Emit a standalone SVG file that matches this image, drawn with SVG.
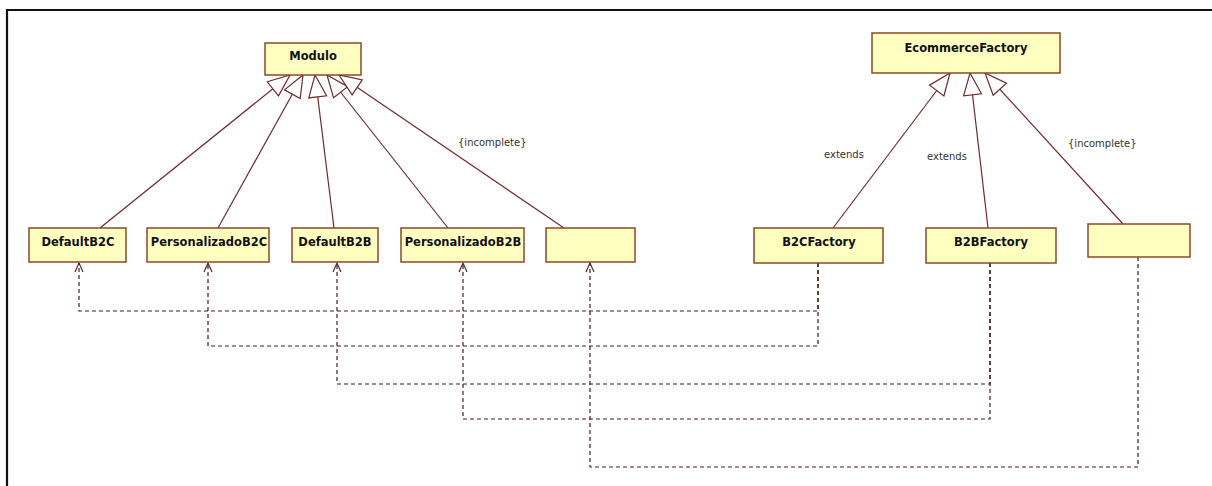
<svg xmlns="http://www.w3.org/2000/svg" width="1212" height="486" viewBox="0 0 1212 486">
  <defs>
    <style>
      .cls { fill: #ffffc0; stroke: #8a4a2a; stroke-width: 1.5; }
      .name { font-family: "DejaVu Sans", Verdana, sans-serif; font-weight: bold; font-size: 11.5px; fill: #111; text-anchor: middle; }
      .lbl { font-family: "DejaVu Sans", Verdana, sans-serif; font-size: 10px; fill: #333; }
      .gen { stroke: #6e2b2b; stroke-width: 1.2; fill: none; marker-end: url(#hollow); }
      .dep { stroke: #4a1a1a; stroke-width: 1.2; fill: none; stroke-dasharray: 4 3; marker-end: url(#open); }
      .frame { stroke: #111; stroke-width: 2.2; fill: none; }
    </style>
    <!-- hollow triangle for generalization -->
    <marker id="hollow" markerUnits="userSpaceOnUse" markerWidth="26" markerHeight="22" refX="23" refY="10" orient="auto" viewBox="0 0 26 22">
      <path d="M1,1 L23,10 L1,19 Z" fill="#fff" stroke="#6e2b2b" stroke-width="1.2"/>
    </marker>
    <!-- open chevron for dependency -->
    <marker id="open" markerUnits="userSpaceOnUse" markerWidth="12" markerHeight="12" refX="10" refY="5" orient="auto" viewBox="0 0 12 12">
      <path d="M1,1 L10,5 L1,9" fill="none" stroke="#4a1a1a" stroke-width="1.1"/>
    </marker>
  </defs>

  <rect width="1212" height="486" fill="#fff"/>
  <path class="frame" d="M7,486 V10 H1212"/>

  <g id="connectors">
    <!-- generalizations to Modulo -->
    <path class="gen" d="M100,228 L290,75"/>
    <path class="gen" d="M218,228 L303,75"/>
    <path class="gen" d="M334,228 L315,75"/>
    <path class="gen" d="M448,228 L327,75"/>
    <path class="gen" d="M564,228 L339,75"/>
    <!-- generalizations to EcommerceFactory -->
    <path class="gen" d="M833,228 L950,73"/>
    <path class="gen" d="M988,228 L970,73"/>
    <path class="gen" d="M1123,224 L985,73"/>
    <!-- dependencies -->
    <path class="dep" d="M818,263 V311 H79 V263"/>
    <path class="dep" d="M818,263 V346 H208 V263"/>
    <path class="dep" d="M990,263 V384 H337 V263"/>
    <path class="dep" d="M990,263 V419 H463 V263"/>
    <path class="dep" d="M1138,257 V467 H590 V263"/>
    <text class="lbl" x="458" y="146">{incomplete}</text>
    <text class="lbl" x="824" y="158">extends</text>
    <text class="lbl" x="927" y="160">extends</text>
    <text class="lbl" x="1068" y="147">{incomplete}</text>
  </g>

  <g id="Modulo">
    <rect class="cls" x="265" y="43" width="96" height="32"/>
    <text class="name" x="313" y="60">Modulo</text>
  </g>
  <g id="EcommerceFactory">
    <rect class="cls" x="872" y="33" width="188" height="40"/>
    <text class="name" x="966" y="52">EcommerceFactory</text>
  </g>
  <g id="DefaultB2C">
    <rect class="cls" x="29" y="228" width="97" height="34"/>
    <text class="name" x="78" y="246">DefaultB2C</text>
  </g>
  <g id="PersonalizadoB2C">
    <rect class="cls" x="147" y="228" width="122" height="34"/>
    <text class="name" x="209" y="246">PersonalizadoB2C</text>
  </g>
  <g id="DefaultB2B">
    <rect class="cls" x="292" y="228" width="86" height="34"/>
    <text class="name" x="335" y="246">DefaultB2B</text>
  </g>
  <g id="PersonalizadoB2B">
    <rect class="cls" x="401" y="228" width="123" height="34"/>
    <text class="name" x="463" y="246">PersonalizadoB2B</text>
  </g>
  <g id="ModuloVacio">
    <rect class="cls" x="546" y="228" width="89" height="34"/>
  </g>
  <g id="B2CFactory">
    <rect class="cls" x="754" y="228" width="129" height="35"/>
    <text class="name" x="819" y="246">B2CFactory</text>
  </g>
  <g id="B2BFactory">
    <rect class="cls" x="926" y="228" width="130" height="35"/>
    <text class="name" x="991" y="246">B2BFactory</text>
  </g>
  <g id="FactoryVacia">
    <rect class="cls" x="1088" y="224" width="102" height="33"/>
  </g>
</svg>
